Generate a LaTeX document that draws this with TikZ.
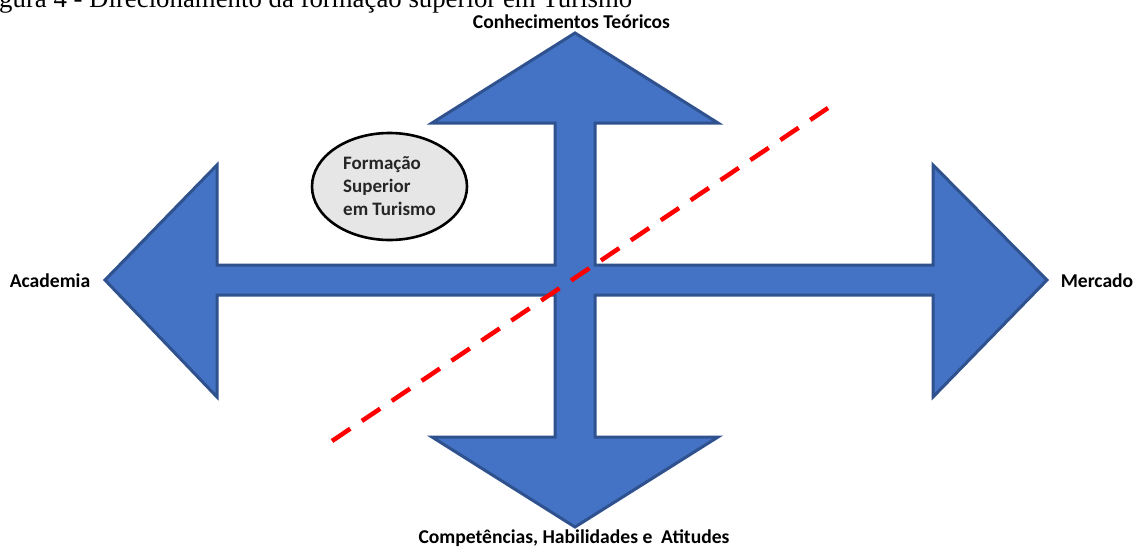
\documentclass[tikz,border=0pt]{standalone}
\usepackage{fontspec}
\setmainfont{Carlito}
\newfontfamily\capfont{Liberation Serif}
\usetikzlibrary{shapes.geometric}
\definecolor{arrowfill}{HTML}{4472C4}
\definecolor{arrowline}{HTML}{2F528F}
\definecolor{ovalfill}{HTML}{E7E6E6}
\definecolor{redline}{HTML}{FF0000}
\tikzset{
  bluecross/.style={fill=arrowfill, draw=arrowline, line width=3pt, line join=miter},
  lbl/.style={font=\fontsize{19.6}{22}\selectfont\bfseries, anchor=base, inner sep=0pt},
  captxt/.style={font=\capfont\fontsize{26.8}{30}\selectfont, anchor=base west, inner sep=0pt},
  ovalbox/.style={ellipse, draw=black, line width=2.6pt, fill=ovalfill, minimum width=155pt, minimum height=107pt, inner sep=0pt},
  ovaltxt/.style={font=\fontsize{19}{23}\selectfont\bfseries, align=left, text=black!85, inner sep=0pt},
  cutline/.style={draw=redline, line width=4.5pt, dash pattern=on 22pt off 14pt}
}
\begin{document}
\begin{tikzpicture}[x=1pt,y=-1pt]
\clip (0,0) rectangle (1134,546);
\fill[white] (0,0) rectangle (1134,546);
% caption (cut at top)
\node[captxt] (caption) at (-1,8) {gura 4 - Direcionamento da formação superior em Turismo};
% cross of four arrows
\draw[bluecross]
  (575,33) -- (718,123) -- (595,123) -- (595,265) -- (933,265) -- (933,165)
  -- (1047,280) -- (933,397) -- (933,295) -- (595,295) -- (595,437)
  -- (718,437) -- (575,527) -- (432,437) -- (555,437) -- (555,295)
  -- (217,295) -- (217,397) -- (105,280) -- (217,165) -- (217,265)
  -- (555,265) -- (555,123) -- (432,123) -- cycle;
% oval
\node[ovalbox] (oval) at (389.5,186.5) {};
\node[ovaltxt] (ovaltext) at (oval.center) {Formação\\Superior\\em Turismo};
% labels
\node[lbl] (top) at (571.5,28) {Conhecimentos Teóricos};
\node[lbl] (left) at (50,287) {Academia};
\node[lbl] (right) at (1097,287) {Mercado};
\node[lbl] (bottom) at (574,543) {Competências, Habilidades e\ \ Atitudes};
% red dashed line
\coordinate (rA) at (332,441);
\coordinate (rB) at (828,108);
\draw[cutline] (rA) -- (rB);
\end{tikzpicture}
\end{document}
